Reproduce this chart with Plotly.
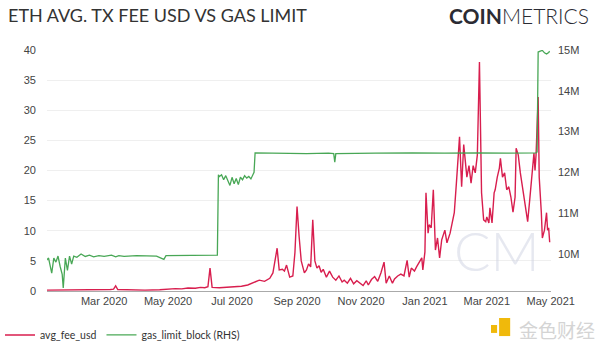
import plotly.graph_objects as go

# ---- data ----
fee_dates = [
    "2020-01-06", "2020-01-19", "2020-02-02", "2020-02-17", "2020-02-26", "2020-03-07",
    "2020-03-10", "2020-03-12", "2020-03-14", "2020-03-26", "2020-04-09", "2020-04-23",
    "2020-05-01", "2020-05-08", "2020-05-14", "2020-05-20", "2020-05-27", "2020-06-01",
    "2020-06-05", "2020-06-08", "2020-06-10", "2020-06-12", "2020-06-19", "2020-06-27",
    "2020-07-04", "2020-07-10", "2020-07-16", "2020-07-20", "2020-07-24", "2020-07-27",
    "2020-08-01", "2020-08-06", "2020-08-09", "2020-08-13", "2020-08-15", "2020-08-18",
    "2020-08-20", "2020-08-22", "2020-08-25", "2020-08-28", "2020-08-30", "2020-09-01",
    "2020-09-03", "2020-09-04", "2020-09-05", "2020-09-08", "2020-09-10", "2020-09-12",
    "2020-09-14", "2020-09-16", "2020-09-18", "2020-09-20", "2020-09-22", "2020-09-24",
    "2020-09-26", "2020-09-29", "2020-10-02", "2020-10-05", "2020-10-08", "2020-10-11",
    "2020-10-14", "2020-10-16", "2020-10-19", "2020-10-22", "2020-10-25", "2020-10-28",
    "2020-10-31", "2020-11-03", "2020-11-06", "2020-11-08", "2020-11-11", "2020-11-14",
    "2020-11-17", "2020-11-20", "2020-11-23", "2020-11-25", "2020-11-28", "2020-12-01",
    "2020-12-03", "2020-12-06", "2020-12-09", "2020-12-12", "2020-12-15", "2020-12-17",
    "2020-12-19", "2020-12-22", "2020-12-24", "2020-12-27", "2020-12-29", "2020-12-30",
    "2021-01-01", "2021-01-02", "2021-01-04", "2021-01-05", "2021-01-07", "2021-01-09",
    "2021-01-11", "2021-01-13", "2021-01-15", "2021-01-17", "2021-01-20", "2021-01-22",
    "2021-01-25", "2021-01-27", "2021-01-29", "2021-01-31", "2021-02-03", "2021-02-05",
    "2021-02-07", "2021-02-10", "2021-02-12", "2021-02-14", "2021-02-16", "2021-02-18",
    "2021-02-20", "2021-02-22", "2021-02-24", "2021-02-26", "2021-02-28", "2021-03-01",
    "2021-03-03", "2021-03-04", "2021-03-06", "2021-03-08", "2021-03-09", "2021-03-11",
    "2021-03-13", "2021-03-14", "2021-03-16", "2021-03-18", "2021-03-20", "2021-03-22",
    "2021-03-24", "2021-03-26", "2021-03-28", "2021-03-29", "2021-03-31", "2021-04-02",
    "2021-04-04", "2021-04-06", "2021-04-09", "2021-04-11", "2021-04-13", "2021-04-15",
    "2021-04-16", "2021-04-17", "2021-04-19", "2021-04-20", "2021-04-22", "2021-04-23",
    "2021-04-25", "2021-04-27", "2021-04-28", "2021-04-29", "2021-04-30",
]
avg_fee_usd = [
    0.15, 0.15, 0.2, 0.25, 0.2, 0.25,
    0.3, 0.85, 0.25, 0.15, 0.15, 0.2,
    0.3, 0.4, 0.35, 0.5, 0.45, 0.6,
    0.55, 0.7, 3.8, 0.6, 0.55, 0.6,
    0.7, 0.8, 1.0, 1.3, 1.5, 1.8,
    1.6, 2.1, 3.0, 7.1, 3.5, 3.6,
    3.3, 4.3, 2.3, 2.5, 6.4, 14.0,
    9.0, 6.8, 5.0, 3.0, 3.5, 4.5,
    4.0, 11.8, 5.0, 3.8, 4.2, 3.1,
    3.6, 2.3, 3.3, 2.3, 1.8, 2.5,
    1.5, 1.8, 1.3, 2.1, 1.2, 1.7,
    1.3, 0.9, 1.7, 1.0, 1.9, 2.4,
    1.6, 3.0, 4.8, 1.3, 2.5, 1.3,
    2.0, 2.5, 2.8, 2.5, 5.1, 2.3,
    3.8, 3.3, 4.0, 5.0, 5.5, 3.5,
    6.5, 16.3, 9.6, 11.0, 10.5, 16.8,
    6.8, 8.8, 5.5, 8.5, 10.1, 8.0,
    9.6, 11.3, 13.0, 17.9, 25.6, 17.3,
    24.3, 18.9, 20.8, 17.9, 20.8, 19.6,
    22.6, 38.0, 16.3, 11.8, 11.5, 12.3,
    11.3, 13.8, 11.3, 16.3, 16.8, 18.9,
    20.4, 22.0, 18.9, 19.6, 16.8, 17.3,
    15.6, 13.1, 15.6, 23.7, 22.6, 19.6,
    17.3, 14.6, 11.5, 15.2, 18.9, 22.9,
    20.0, 22.6, 32.2, 18.9, 13.1, 8.8,
    10.1, 13.0, 10.1, 10.5, 8.1,
]

gas_dates = [
    "2020-01-06", "2020-01-08", "2020-01-11", "2020-01-13", "2020-01-15", "2020-01-17",
    "2020-01-19", "2020-01-21", "2020-01-22", "2020-01-24", "2020-01-26", "2020-01-28",
    "2020-01-30", "2020-02-01", "2020-02-04", "2020-02-08", "2020-02-12", "2020-02-16",
    "2020-02-20", "2020-02-25", "2020-03-01", "2020-03-08", "2020-03-12", "2020-03-15",
    "2020-03-20", "2020-04-01", "2020-04-20", "2020-04-27", "2020-04-29", "2020-05-15",
    "2020-06-01", "2020-06-17", "2020-06-18", "2020-06-19", "2020-06-21", "2020-06-23",
    "2020-06-25", "2020-06-27", "2020-06-29", "2020-07-01", "2020-07-03", "2020-07-05",
    "2020-07-07", "2020-07-09", "2020-07-11", "2020-07-13", "2020-07-15", "2020-07-17",
    "2020-07-19", "2020-07-21", "2020-07-22", "2020-07-23", "2020-08-15", "2020-09-10",
    "2020-10-01", "2020-10-06", "2020-10-07", "2020-10-08", "2020-11-15", "2020-12-20",
    "2021-01-20", "2021-02-20", "2021-03-20", "2021-04-17", "2021-04-18", "2021-04-19",
    "2021-04-21", "2021-04-23", "2021-04-25", "2021-04-27", "2021-04-29", "2021-04-30",
]
gas_limit_block = [
    9.85e6, 9.9e6, 9.53e6, 9.9e6, 9.8e6, 9.95e6,
    9.7e6, 9.5e6, 9.17e6, 9.9e6, 9.6e6, 9.95e6,
    9.75e6, 9.95e6, 9.92e6, 10.0e6, 9.94e6, 9.97e6,
    9.93e6, 9.96e6, 9.94e6, 9.97e6, 9.93e6, 9.96e6,
    9.94e6, 9.96e6, 9.95e6, 9.87e6, 9.96e6, 9.96e6,
    9.97e6, 9.97e6, 11.94e6, 11.9e6, 11.94e6, 11.82e6,
    11.92e6, 11.78e6, 11.68e6, 11.88e6, 11.72e6, 11.85e6,
    11.7e6, 11.88e6, 11.82e6, 11.92e6, 11.86e6, 11.9e6,
    11.84e6, 11.95e6, 12.0e6, 12.48e6, 12.47e6, 12.46e6,
    12.47e6, 12.46e6, 12.25e6, 12.46e6, 12.47e6, 12.48e6,
    12.47e6, 12.48e6, 12.47e6, 12.48e6, 12.5e6, 14.95e6,
    14.97e6, 14.99e6, 14.93e6, 14.9e6, 14.94e6, 14.97e6,
]

x_ticks = ["2020-03-01", "2020-05-01", "2020-07-01", "2020-09-01",
           "2020-11-01", "2021-01-01", "2021-03-01", "2021-05-01"]
left_ticks = [0, 5, 10, 15, 20, 25, 30, 35, 40]
right_ticks = [10e6, 11e6, 12e6, 13e6, 14e6, 15e6]

RED = "#d81e4e"
GREEN = "#3fa34d"

fig = go.Figure()
fig.add_trace(go.Scatter(x=fee_dates, y=avg_fee_usd, name="avg_fee_usd",
                         mode="lines", line=dict(color=RED, width=1.4)))
fig.add_trace(go.Scatter(x=gas_dates, y=gas_limit_block, name="gas_limit_block (RHS)",
                         mode="lines", line=dict(color=GREEN, width=1.3), yaxis="y2",
                         opacity=0.95))

tickfont = dict(family="Liberation Sans, Arial, sans-serif", size=11, color="#444")

fig.update_layout(
    width=600, height=351,
    margin=dict(l=47, r=49, t=50, b=60, autoexpand=False),
    paper_bgcolor="white", plot_bgcolor="white",
    showlegend=True,
    legend=dict(orientation="h", xref="container", yref="container",
                x=-0.0133, y=0.087, xanchor="left", yanchor="top",
                font=dict(family="Lato, sans-serif", size=10.5, color="#333"),
                itemwidth=30, tracegroupgap=0),
    xaxis=dict(type="date", range=["2020-01-06 12:00", "2021-05-01 06:00"],
               tickvals=x_ticks, tickformat="%b %Y", tickfont=tickfont,
               showgrid=False, showline=True, linecolor="#aaa", linewidth=1,
               ticks="", zeroline=False),
    yaxis=dict(range=[0, 40], tickvals=left_ticks, tickfont=tickfont,
               showgrid=True, gridcolor="#efefef", gridwidth=1, zeroline=False,
               ticks="", showline=False, ticklabelstandoff=10),
    yaxis2=dict(overlaying="y", side="right", range=[9.093e6, 15.0e6],
                tickvals=right_ticks, tickformat="~s", tickfont=tickfont,
                showgrid=False, zeroline=False, ticks="", showline=False,
                ticklabelstandoff=6),
    annotations=[
        dict(text="ETH AVG. TX FEE USD VS GAS LIMIT", xref="paper", yref="paper",
             x=-0.081, y=1.145, xanchor="left", yanchor="middle", showarrow=False,
             font=dict(family="Lato, sans-serif", size=18, color="#333")),
        dict(text="<b>COIN</b><span style='font-weight:300'>METRICS</span>",
             xref="paper", yref="paper",
             x=1.079, y=1.145, xanchor="right", yanchor="middle", showarrow=False,
             font=dict(family="Lato, sans-serif", size=21, color="#2b2b33")),
        dict(text="CM", xref="paper", yref="paper",
             x=0.893, y=0.17, xanchor="center", yanchor="middle", showarrow=False,
             font=dict(family="Lato, sans-serif", size=54, weight=300,
                       color="rgba(205,210,225,0.5)")),
        dict(text="金色财经", xref="paper", yref="paper",
             x=1.091, y=-0.158, xanchor="right", yanchor="middle", showarrow=False,
             font=dict(family="Noto Sans CJK SC, sans-serif", size=19, color="#d4d4d4")),
    ],
    shapes=[
        dict(type="rect", xref="paper", yref="paper", x0=0.881, x1=0.893,
             y0=-0.174, y1=-0.141, fillcolor="#f0b90b", line=dict(width=0)),
        dict(type="rect", xref="paper", yref="paper", x0=0.897, x1=0.919,
             y0=-0.187, y1=-0.112, fillcolor="#f0b90b", line=dict(width=0)),
    ],
)

fig.write_html("out.html")
